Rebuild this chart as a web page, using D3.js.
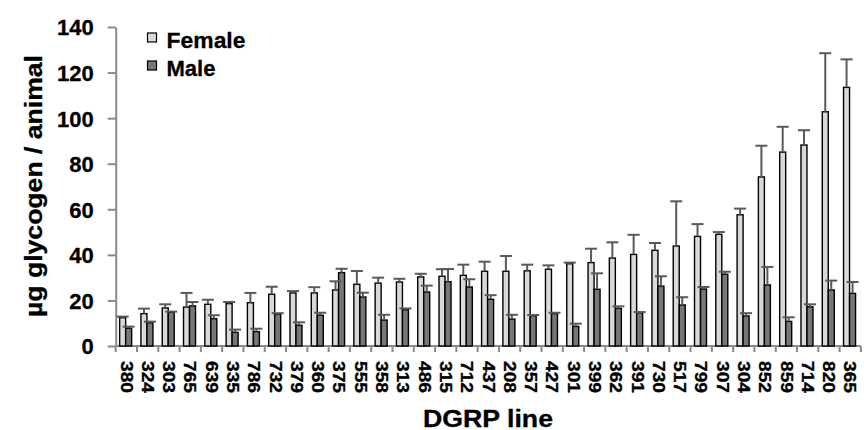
<!DOCTYPE html>
<html>
<head>
<meta charset="utf-8">
<script src="https://cdn.jsdelivr.net/npm/d3@7/dist/d3.min.js"></script>
<style>
  html, body { margin: 0; padding: 0; background: #fff; }
  svg { display: block; font-family: "Liberation Sans", Arial, sans-serif; font-weight: bold; }
</style>
</head>
<body>
<svg id="chart" width="864" height="430"></svg>
<script>
// DGRP lines, ordered by female glycogen content
const lines = ["380","324","303","765","639","335","786","732","379","360","375","555","358","313","486",
  "315","712","437","208","357","427","301","399","362","391","730","517","799","307","304","852","859",
  "714","820","365"];

// Mean glycogen (µg per animal) and standard error, females
const femaleMean = [12.4,14.2,16.7,17.1,18.3,18.6,19.0,22.7,23.3,23.3,24.6,27.1,27.6,28.1,30.3,30.6,31.0,
  32.8,32.8,33.0,33.7,36.1,36.6,38.6,40.2,42.0,43.9,48.1,49.0,57.6,74.2,85.1,88.2,102.8,113.5];
const femaleErr = [0.5,2.2,1.6,6.2,2.0,0.7,4.3,3.3,0.8,2.5,3.8,5.8,2.4,1.4,1.4,3.1,4.7,4.2,6.7,2.7,1.7,
  0.5,6.1,6.9,8.6,3.2,19.6,5.4,1.0,2.7,13.7,11.1,6.5,25.7,12.3];

// Mean glycogen (µg per animal) and standard error, males
const maleMean = [7.8,10.2,14.8,17.6,12.0,6.0,6.3,14.0,9.1,13.5,32.2,21.5,11.4,15.9,23.7,28.2,25.9,20.5,
  11.8,13.3,14.2,8.6,24.9,16.5,14.6,26.3,18.0,25.0,31.5,13.2,26.8,10.8,17.2,24.6,23.1];
const maleErr = [0.7,0.5,0.3,1.7,1.5,1.2,1.3,0.4,1.3,1.1,1.7,1.9,2.3,0.6,2.8,5.6,3.4,1.8,1.9,0.3,0.4,1.2,
  7.0,0.9,0.3,4.3,3.4,0.9,1.1,1.2,7.9,1.8,1.1,4.1,5.0];

const yTicks = [0,20,40,60,80,100,120,140];
const seriesNames = ["Female","Male"];

const fillFemale = "#d9d9d9", fillMale = "#777777";
const axisColor = "#8a8a8a", errColor = "#595959";

const svg = d3.select("#chart");

const x = d3.scaleBand().domain(lines).range([115.7, 860.9]).padding(0);
const y = d3.scaleLinear().domain([0, 140]).range([346, 27]);

const barW = 6, capW = 12;
const center = d => x(d) + x.bandwidth() / 2 - 0.7;

// Y axis
const yAxis = svg.append("g").attr("transform", "translate(115.7,0)")
  .call(d3.axisLeft(y).tickValues(yTicks).tickSize(8).tickSizeOuter(0).tickPadding(14));
yAxis.select(".domain").attr("stroke", axisColor).attr("stroke-width", 2);
yAxis.selectAll(".tick line").attr("stroke", axisColor).attr("stroke-width", 2);
yAxis.selectAll(".tick text").attr("fill", "#000").style("font-size", "22px").style("font-weight", "bold")
  .attr("stroke", "#000").attr("stroke-width", 0.3)
  .attr("dy", "0.36em");

// X axis line with ticks on the category boundaries
const xAxis = svg.append("g");
xAxis.append("line").attr("x1", x.range()[0]).attr("x2", x.range()[1])
  .attr("y1", y(0)).attr("y2", y(0)).attr("stroke", axisColor).attr("stroke-width", 2);
const bounds = lines.map(d => x(d)).concat([x.range()[1]]);
xAxis.selectAll("line.b").data(bounds).join("line").attr("class", "b")
  .attr("x1", d => d).attr("x2", d => d).attr("y1", y(0)).attr("y2", y(0) + 6)
  .attr("stroke", axisColor).attr("stroke-width", 2);

// Category labels, rotated to read downward
xAxis.selectAll("text.lab").data(lines).join("text").attr("class", "lab")
  .attr("transform", d => `translate(${center(d) + 0.7},361) rotate(90)`)
  .attr("dy", "0.36em")
  .attr("text-anchor", "start")
  .attr("textLength", 32).attr("lengthAdjust", "spacingAndGlyphs")
  .style("font-size", "16px").attr("fill", "#000")
  .attr("stroke", "#000").attr("stroke-width", 0.35)
  .text(d => d);

// Bars
const rows = lines.map((d, i) => ({ line: d, f: femaleMean[i], fe: femaleErr[i], m: maleMean[i], me: maleErr[i] }));
const bars = svg.append("g");

bars.selectAll("rect.f").data(rows).join("rect").attr("class", "f")
  .attr("x", d => center(d.line) - barW).attr("width", barW)
  .attr("y", d => y(d.f)).attr("height", d => y(0) - y(d.f))
  .attr("fill", fillFemale).attr("stroke", "#000").attr("stroke-width", 1.4);

bars.selectAll("rect.m").data(rows).join("rect").attr("class", "m")
  .attr("x", d => center(d.line)).attr("width", barW)
  .attr("y", d => y(d.m)).attr("height", d => y(0) - y(d.m))
  .attr("fill", fillMale).attr("stroke", "#000").attr("stroke-width", 1.4);

// Error bars (upper half)
function errorBars(cls, cx, val, err) {
  const g = svg.append("g").attr("class", cls);
  g.selectAll("line.v").data(rows).join("line").attr("class", "v")
    .attr("x1", cx).attr("x2", cx)
    .attr("y1", d => y(val(d))).attr("y2", d => y(val(d) + err(d)))
    .attr("stroke", errColor).attr("stroke-width", 2);
  g.selectAll("line.c").data(rows).join("line").attr("class", "c")
    .attr("x1", d => cx(d) - capW / 2).attr("x2", d => cx(d) + capW / 2)
    .attr("y1", d => y(val(d) + err(d))).attr("y2", d => y(val(d) + err(d)))
    .attr("stroke", errColor).attr("stroke-width", 2);
}
errorBars("errF", d => center(d.line) - barW / 2, d => d.f, d => d.fe);
errorBars("errM", d => center(d.line) + barW / 2, d => d.m, d => d.me);

// Axis titles
svg.append("text").attr("x", 488).attr("y", 426.5).attr("text-anchor", "middle")
  .attr("textLength", 130).attr("lengthAdjust", "spacingAndGlyphs")
  .style("font-size", "23px").attr("fill", "#000").attr("stroke", "#000").attr("stroke-width", 0.3)
  .text("DGRP line");

svg.append("text").attr("transform", "translate(41.5,186) rotate(-90)").attr("text-anchor", "middle")
  .attr("textLength", 262).attr("lengthAdjust", "spacingAndGlyphs")
  .style("font-size", "23px").attr("fill", "#000").attr("stroke", "#000").attr("stroke-width", 0.3)
  .text("µg glycogen / animal");

// Legend
const legend = svg.append("g");
const legFill = [fillFemale, fillMale];
seriesNames.forEach((name, i) => {
  const gy = 33 + i * 28;
  legend.append("rect").attr("x", 147.5).attr("y", gy).attr("width", 9).attr("height", 9)
    .attr("fill", legFill[i]).attr("stroke", "#000").attr("stroke-width", 1.2);
  legend.append("text").attr("x", 166.5).attr("y", gy + 14.5)
    .attr("textLength", i === 0 ? 79 : 49).attr("lengthAdjust", "spacingAndGlyphs")
    .style("font-size", "22px").attr("fill", "#000").attr("stroke", "#000").attr("stroke-width", 0.3)
    .text(name);
});
</script>
</body>
</html>
